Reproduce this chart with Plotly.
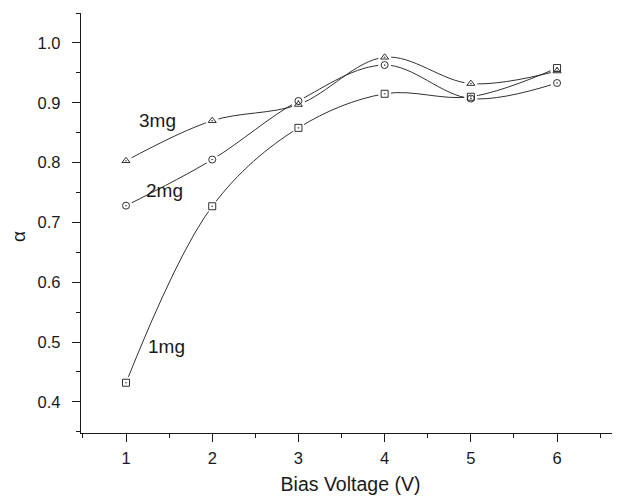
import plotly.graph_objects as go

voltage = [1, 2, 3, 4, 5, 6]
alpha_1mg = [0.432, 0.727, 0.858, 0.915, 0.910, 0.958]
alpha_2mg = [0.728, 0.805, 0.903, 0.963, 0.907, 0.933]
alpha_3mg = [0.803, 0.870, 0.897, 0.976, 0.932, 0.953]
series_names = ["1mg", "2mg", "3mg"]
label_pos = {"1mg": (1.47, 0.493), "2mg": (1.45, 0.753), "3mg": (1.36, 0.870)}

FONT = "Liberation Sans, Arial, Helvetica, sans-serif"
INK = "#1a1a1a"

fig = go.Figure()
series = [(alpha_1mg, "square-open-dot"), (alpha_2mg, "circle-open-dot"), (alpha_3mg, "triangle-up-open-dot")]

# smooth lines
for ys, sym in series:
    fig.add_trace(go.Scatter(x=voltage, y=ys, mode="lines",
                             line=dict(color=INK, width=0.9, shape="spline", smoothing=1.0),
                             hoverinfo="skip", showlegend=False))
# white halos to give gaps around markers
for ys, sym in series:
    fig.add_trace(go.Scatter(x=voltage, y=ys, mode="markers",
                             marker=dict(symbol="circle", size=13, color="white", line=dict(width=0)),
                             hoverinfo="skip", showlegend=False))
# markers
for (ys, sym), name in zip(series, series_names):
    fig.add_trace(go.Scatter(x=voltage, y=ys, mode="markers", name=name,
                             marker=dict(symbol=sym, size=7, color=INK, line=dict(width=0.9, color=INK)),
                             showlegend=False))

for name in series_names:
    x, y = label_pos[name]
    fig.add_annotation(x=x, y=y, text=name, showarrow=False,
                       font=dict(family=FONT, size=19, color=INK))

# y-axis title placed slightly below centre, as in the reference
fig.add_annotation(xref="paper", yref="paper", x=-0.117, y=0.469, text="α", textangle=-90,
                   showarrow=False, xanchor="center", yanchor="middle",
                   font=dict(family=FONT, size=19, color=INK))

# page body adds an 8px margin, so the figure is shrunk by 8px to land at the reference position
fig.update_layout(
    width=612, height=489,
    margin=dict(l=73, r=0, t=5, b=64),
    paper_bgcolor="white", plot_bgcolor="white",
    font=dict(family=FONT, color=INK, size=16),
    showlegend=False,
)
fig.update_xaxes(
    range=[0.478, 6.73], tickmode="array", tickvals=voltage, ticktext=[str(v) for v in voltage],
    showline=True, linecolor=INK, linewidth=1.3, showgrid=False, zeroline=False,
    ticks="outside", ticklen=8, tickwidth=1.2, tickcolor=INK,
    minor=dict(ticks="outside", ticklen=4, tickwidth=1.2, tickcolor=INK, dtick=0.5, tick0=0.5, showgrid=False),
    tickfont=dict(size=16.5, color=INK), ticklabelstandoff=2,
    title=dict(text="Bias Voltage (V)", font=dict(size=19.5, color=INK), standoff=11),
)
fig.update_yaxes(
    range=[0.348, 1.05], tickmode="array", tickvals=[0.4, 0.5, 0.6, 0.7, 0.8, 0.9, 1.0],
    ticktext=["0.4", "0.5", "0.6", "0.7", "0.8", "0.9", "1.0"],
    showline=True, linecolor=INK, linewidth=1.3, showgrid=False, zeroline=False,
    ticks="outside", ticklen=8, tickwidth=1.2, tickcolor=INK,
    minor=dict(ticks="outside", ticklen=4, tickwidth=1.2, tickcolor=INK, dtick=0.05, tick0=0.35, showgrid=False),
    tickfont=dict(size=16.5, color=INK), ticklabelstandoff=8,
)

fig.write_html("out.html")
